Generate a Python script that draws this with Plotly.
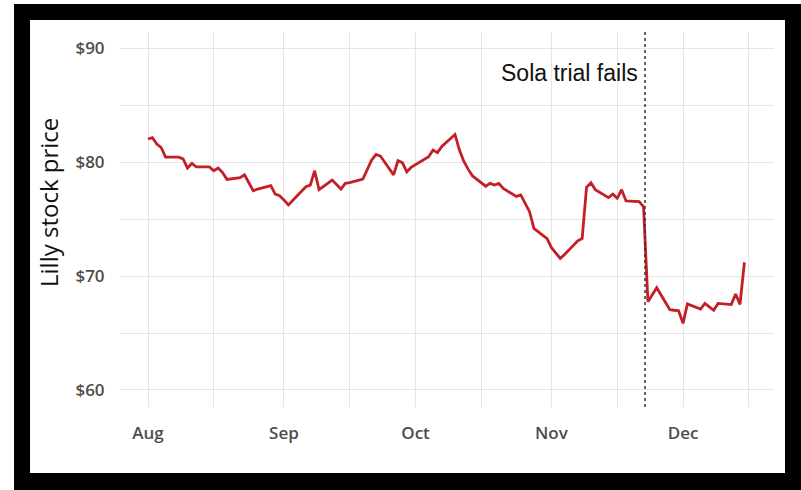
import plotly.graph_objects as go

# ---- data ----
dates = [
    "2016-08-01","2016-08-02","2016-08-03","2016-08-04","2016-08-05",
    "2016-08-08","2016-08-09","2016-08-10","2016-08-11","2016-08-12",
    "2016-08-15","2016-08-16","2016-08-17","2016-08-18","2016-08-19",
    "2016-08-22","2016-08-23","2016-08-24","2016-08-25","2016-08-26",
    "2016-08-29","2016-08-30","2016-08-31",
    "2016-09-01","2016-09-02",
    "2016-09-06","2016-09-07","2016-09-08","2016-09-09",
    "2016-09-12","2016-09-13","2016-09-14","2016-09-15","2016-09-16",
    "2016-09-19","2016-09-20","2016-09-21","2016-09-22","2016-09-23",
    "2016-09-26","2016-09-27","2016-09-28","2016-09-29","2016-09-30",
    "2016-10-03","2016-10-04","2016-10-05","2016-10-06","2016-10-07",
    "2016-10-10","2016-10-11","2016-10-12","2016-10-13","2016-10-14",
    "2016-10-17","2016-10-18","2016-10-19","2016-10-20","2016-10-21",
    "2016-10-24","2016-10-25","2016-10-26","2016-10-27","2016-10-28",
    "2016-10-31",
    "2016-11-01","2016-11-02","2016-11-03","2016-11-04",
    "2016-11-07","2016-11-08","2016-11-09","2016-11-10","2016-11-11",
    "2016-11-14","2016-11-15","2016-11-16","2016-11-17","2016-11-18",
    "2016-11-21","2016-11-22","2016-11-23","2016-11-25",
    "2016-11-28","2016-11-29","2016-11-30",
    "2016-12-01","2016-12-02",
    "2016-12-05","2016-12-06","2016-12-07","2016-12-08","2016-12-09",
    "2016-12-12","2016-12-13","2016-12-14","2016-12-15",
]
prices = [
    82.05, 82.16, 81.6, 81.3, 80.45,
    80.45, 80.3, 79.5, 79.9, 79.6,
    79.6, 79.26, 79.5, 79.1, 78.5,
    78.65, 78.9, 78.2, 77.5, 77.65,
    77.95, 77.2, 77.07,
    76.7, 76.25,
    77.86, 78.0, 79.26, 77.6,
    78.44, 78.0, 77.65, 78.15, 78.22,
    78.53, 79.4, 80.2, 80.7, 80.55,
    78.9, 80.14, 79.97, 79.17, 79.55,
    80.25, 80.5, 81.08, 80.85, 81.4,
    82.45, 81.1, 80.1, 79.4, 78.8,
    77.9, 78.15, 78.0, 78.15, 77.7,
    77.0, 77.13, 76.4, 75.66, 74.2,
    73.3,
    72.5, 72.0, 71.56, 71.9,
    73.1, 73.3, 77.8, 78.2, 77.6,
    76.9, 77.2, 76.84, 77.6, 76.6,
    76.54, 76.1, 67.75, 68.98,
    67.05, 67.0, 66.96,
    65.85, 67.55,
    67.1, 67.6, 67.3, 67.0, 67.6,
    67.5, 68.43, 67.52, 71.2,
]

x_tick_vals = [
    "2016-08-01", "2016-08-16", "2016-09-01", "2016-09-16", "2016-10-01",
    "2016-10-16", "2016-11-01", "2016-11-16", "2016-12-01", "2016-12-16",
]
x_tick_text = ["Aug", "", "Sep", "", "Oct", "", "Nov", "", "Dec", ""]
y_tick_vals = [60, 65, 70, 75, 80, 85, 90]
y_tick_text = ["$60", "", "$70", "", "$80", "", "$90"]

event_date = "2016-11-22 08:00"
event_label = "Sola trial fails"
y_title = "Lilly stock price"

# ---- layout geometry (pixels) ----
W, H = 801, 490
ML, MR, MT, MB = 120, 27, 32, 83
PW, PH = W - ML - MR, H - MT - MB


def px(x):
    return (x - ML) / PW


def py(y):
    return (H - MB - y) / PH


fig = go.Figure()
fig.add_trace(go.Scatter(
    x=dates, y=prices, mode="lines",
    line=dict(color="#c41e27", width=2.8),
    hoverinfo="skip", showlegend=False,
))

tick_font = dict(family="Open Sans, sans-serif", size=17, color="#4d4d4d", weight=600)

fig.update_layout(
    width=W, height=H,
    margin=dict(l=ML, r=MR, t=MT, b=MB, pad=0),
    paper_bgcolor="white",
    plot_bgcolor="white",
    showlegend=False,
    xaxis=dict(
        type="date",
        range=["2016-07-25 14:40", "2016-12-21 18:00"],
        tickmode="array", tickvals=x_tick_vals, ticktext=x_tick_text,
        showgrid=True, gridcolor="#e6e6e6", gridwidth=1,
        zeroline=False, showline=False,
        ticks="outside", ticklen=11, tickcolor="rgba(0,0,0,0)",
        tickfont=tick_font,
    ),
    yaxis=dict(
        range=[58.5, 91.45],
        tickmode="array", tickvals=y_tick_vals, ticktext=y_tick_text,
        showgrid=True, gridcolor="#e6e6e6", gridwidth=1,
        zeroline=False, showline=False,
        ticks="outside", ticklen=11, tickcolor="rgba(0,0,0,0)",
        tickfont=tick_font,
    ),
    shapes=[
        dict(type="rect", xref="paper", yref="paper",
             x0=px(14), x1=px(W + 5), y0=py(H + 5), y1=py(4),
             fillcolor="black", line=dict(width=0), layer="below"),
        dict(type="rect", xref="paper", yref="paper",
             x0=px(30), x1=px(785), y0=py(473), y1=py(20),
             fillcolor="white", line=dict(width=0), layer="below"),
        dict(type="line", xref="x", yref="paper",
             x0=event_date, x1=event_date, y0=0, y1=1,
             line=dict(color="#333333", width=1.5, dash="dot"), layer="above"),
    ],
    annotations=[
        dict(text=y_title, xref="paper", yref="paper",
             x=px(49), y=py(203), textangle=-90, showarrow=False,
             xanchor="center", yanchor="middle",
             font=dict(family="Open Sans, sans-serif", size=24, color="#111111", weight=500)),
        dict(text=event_label, xref="x", yref="paper",
             x=event_date, y=py(73), xanchor="right", yanchor="middle",
             xshift=-5, showarrow=False,
             font=dict(family="Liberation Sans, Arial, sans-serif", size=23, color="#111111")),
    ],
)

fig.write_html("out.html")
